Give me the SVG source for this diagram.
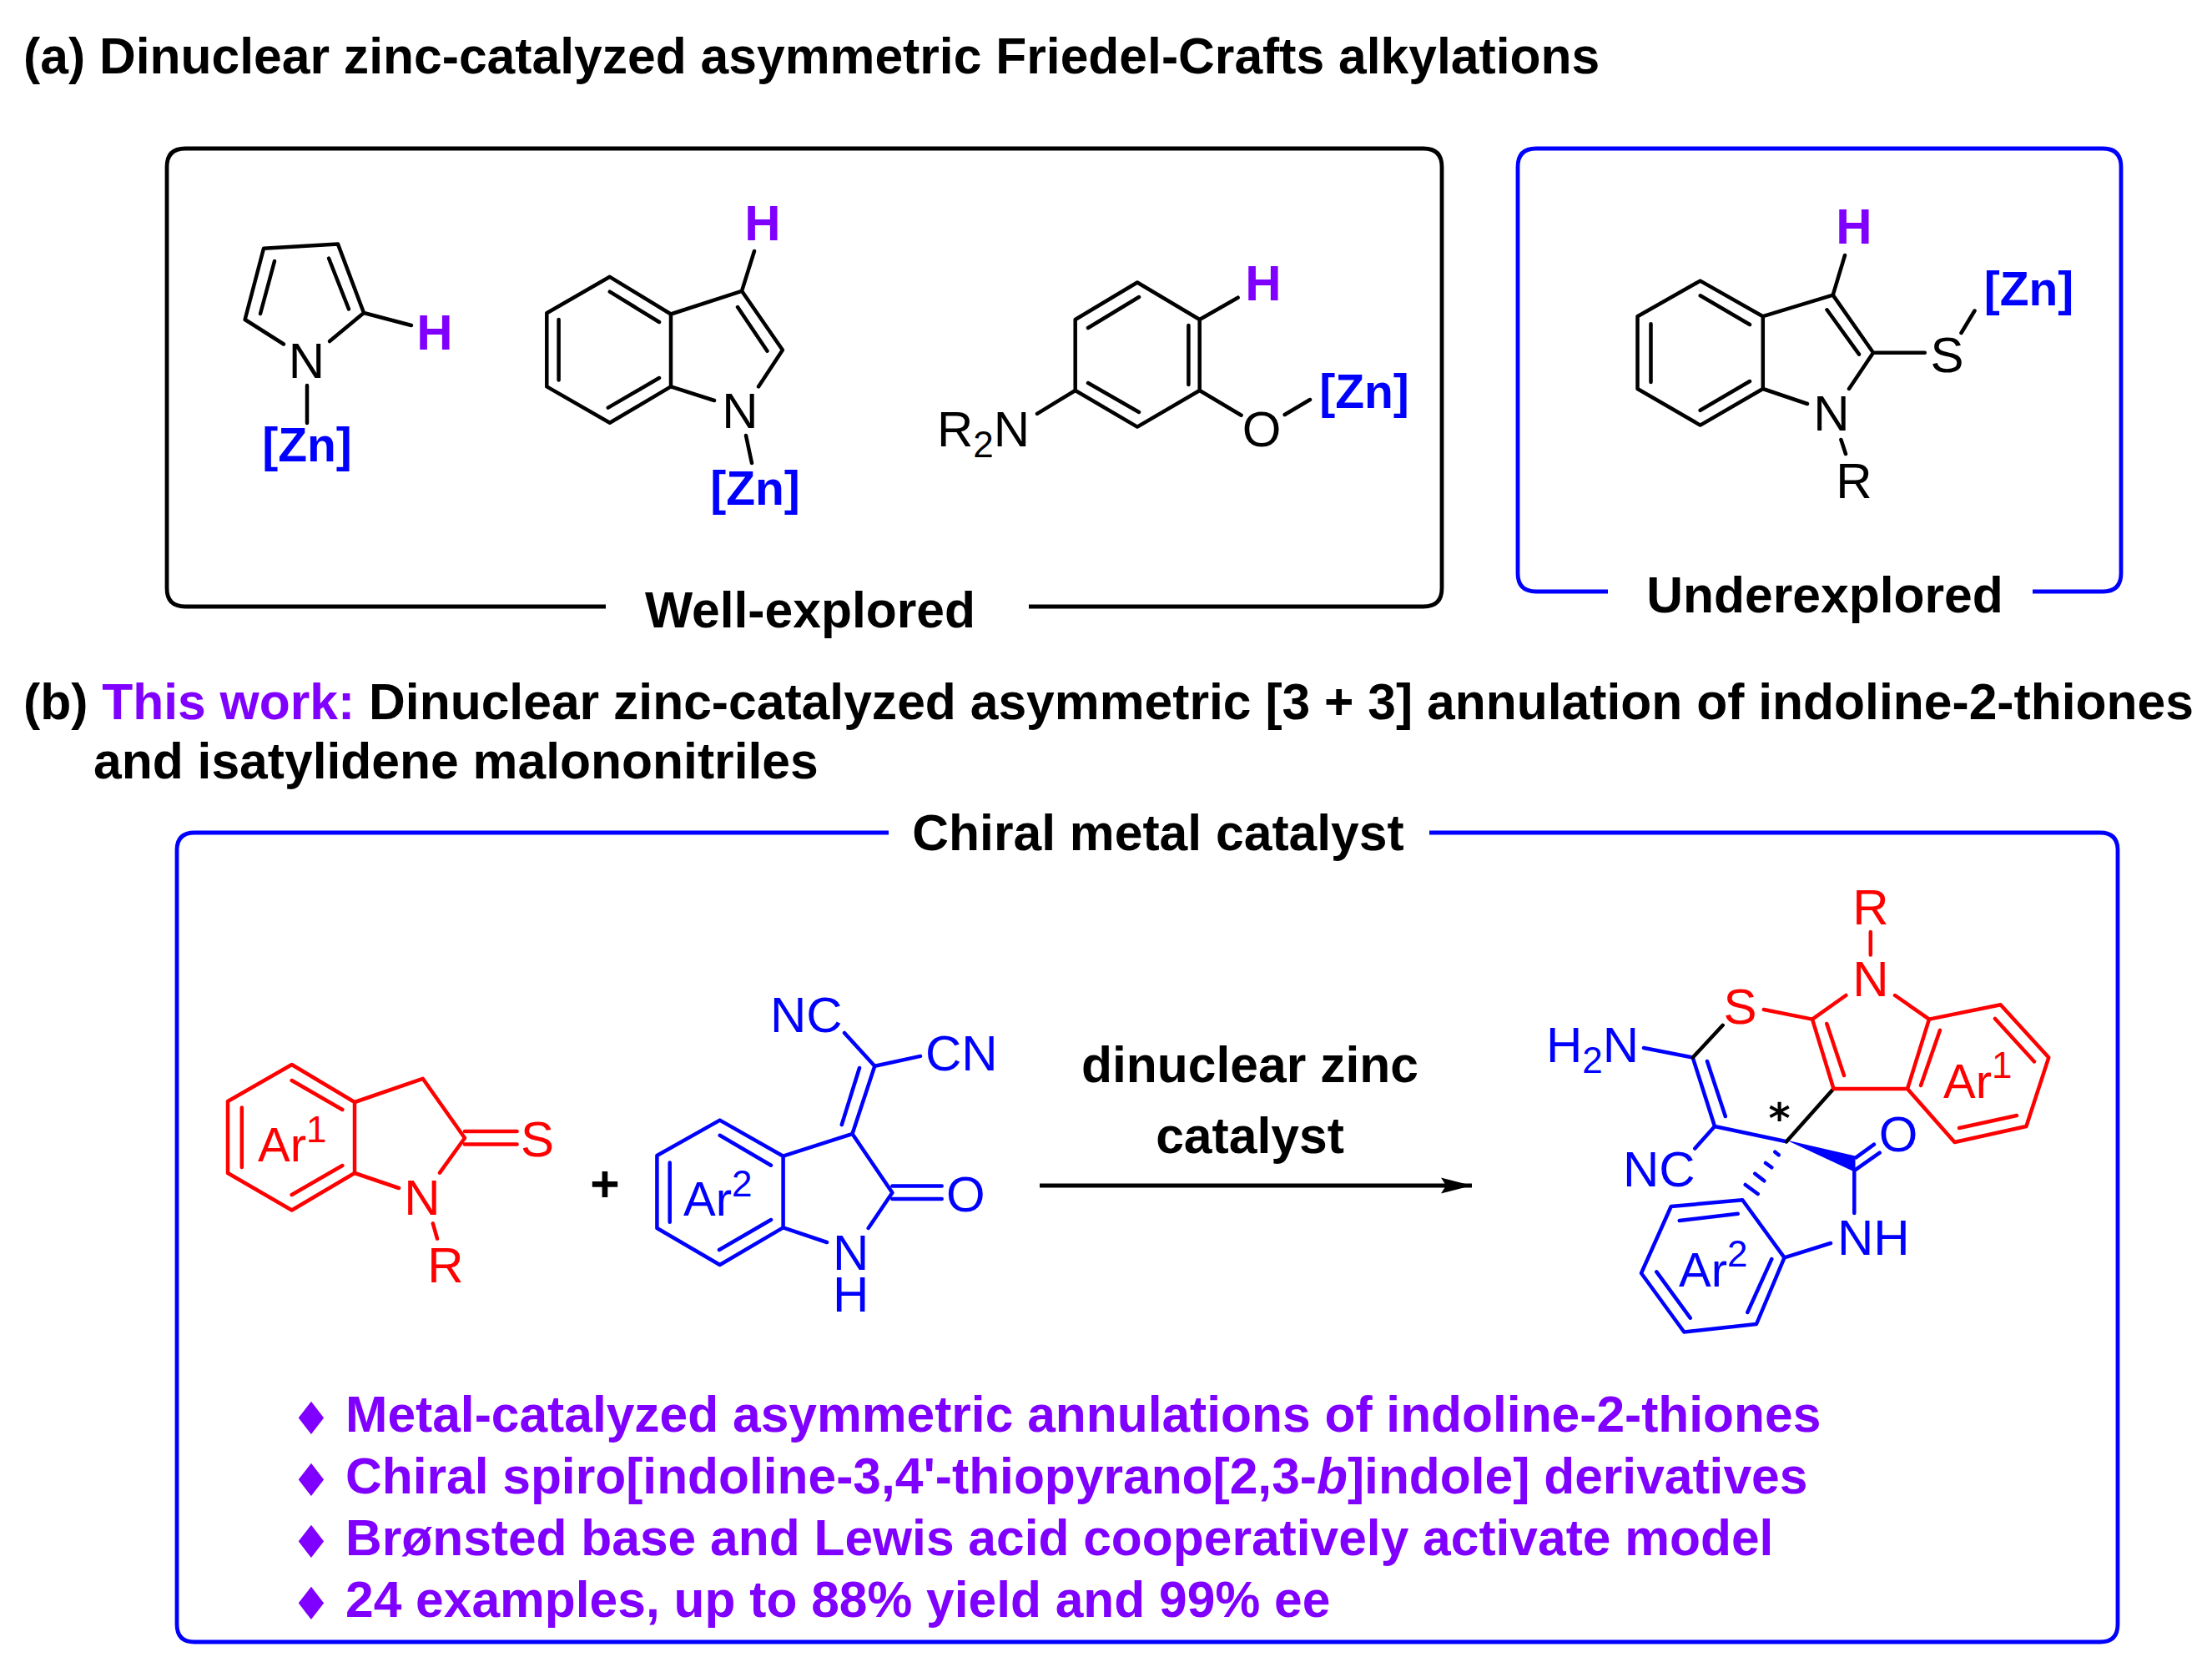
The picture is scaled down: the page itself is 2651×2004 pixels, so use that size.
<svg xmlns="http://www.w3.org/2000/svg" width="2651" height="2004" viewBox="0 0 2651 2004">
<style>
text{font-family:"Liberation Sans",Arial,sans-serif}
.t{font-size:60.6px;font-weight:700;fill:#000}
.p{fill:#8000ff}
.pt{font-size:60.5px;font-weight:700;fill:#8000ff}
.a{font-size:60px;fill:#000}
.h{font-size:60px;font-weight:700;fill:#8000ff;text-anchor:middle}
.z{font-size:57px;font-weight:700;fill:#0000ff;text-anchor:middle}
.b{font-size:60px;fill:#0000ff}
.r{font-size:60px;fill:#ff0000}
.m{text-anchor:middle}
.ar{font-size:58px}
.s{font-size:44px}
.k,.kb,.kr{fill:none;stroke-width:4.5;stroke-linecap:round;stroke-linejoin:round}
.k{stroke:#000}.kb{stroke:#0000ff}.kr{stroke:#ff0000}
.box{fill:none;stroke-width:4.8;stroke-linecap:butt}
.d{font-family:"DejaVu Sans",sans-serif;font-size:54px;fill:#8000ff;text-anchor:middle}
.st{font-family:"DejaVu Sans",sans-serif;font-size:50px;font-weight:700;fill:#000;text-anchor:middle}
</style>
<defs><marker id="ah" markerUnits="userSpaceOnUse" markerWidth="40" markerHeight="22" refX="37" refY="11" orient="auto"><path d="M0 1.5L37 11L0 20.5L6 11Z" fill="#000"/></marker></defs>
<g id="titles">
<text class="t" x="28" y="88">(a) Dinuclear zinc-catalyzed asymmetric Friedel-Crafts alkylations</text>
<text class="t" x="28" y="862">(b) <tspan class="p">This work:</tspan> Dinuclear zinc-catalyzed asymmetric [3 + 3] annulation of indoline-2-thiones</text>
<text class="t" x="112" y="933">and isatylidene malononitriles</text>
</g>
<g id="box-well-explored">
<path class="box" stroke="#000" d="M726 727H222Q200 727 200 705V200Q200 178 222 178H1706Q1728 178 1728 200V705Q1728 727 1706 727H1233"/>
<text class="t m" x="971" y="752">Well-explored</text>
</g>
<g id="box-underexplored">
<path class="box" stroke="#0000ff" d="M1927 709H1841Q1819 709 1819 687V200Q1819 178 1841 178H2520Q2542 178 2542 200V687Q2542 709 2520 709H2436"/>
<text class="t m" x="2187" y="734">Underexplored</text>
</g>
<g id="box-chiral">
<path class="box" stroke="#0000ff" d="M1065 998H233Q212 998 212 1019V1947Q212 1968 233 1968H2517Q2538 1968 2538 1947V1019Q2538 998 2517 998H1713"/>
<text class="t m" x="1388" y="1019">Chiral metal catalyst</text>
</g>
<g id="pyrrole">
<path class="k" d="M340 412.5L293.6 383L316 297.7L405 292.6L436 375L395 409M312 376L329 313M418 370.5L394 309.5M436 375L493 390M368 462V507"/>
<text class="a m" x="367.3" y="453">N</text><text class="h" x="521" y="419">H</text><text class="z" x="368" y="553">[Zn]</text>
</g>
<g id="indole">
<path class="k" d="M804 376.5L730.8 331.8L655.3 375.3V463.4L730.8 506.8L804 463.4ZM730.8 349.6L790 386M669.6 383V455.5M728.8 488.6L790 453M804 376.5L889 348.8L937.9 419.5L909 463.4M884 368L919.5 420.7M804 463.4L856 480M889 348.8L904 301M894 522L901 555"/>
<text class="a m" x="887" y="513">N</text><text class="h" x="914" y="288">H</text><text class="z" x="905" y="605">[Zn]</text>
</g>
<g id="aminophenol">
<path class="k" d="M1363 338.5L1437.7 383V468L1363 511.6L1288.7 468V383ZM1365 356L1304 393M1424.4 390V461M1365 494L1304 459M1437.7 383L1483.6 356.7M1437.7 468L1487.6 497.7M1539.7 497L1570 479M1288.7 468L1243 495.8"/>
<text class="h" x="1514" y="360">H</text><text class="a m" x="1512" y="535">O</text><text class="z" x="1635" y="489">[Zn]</text>
<text class="a" x="1123" y="534.5">R<tspan class="s" dy="13">2</tspan><tspan dy="-13">N</tspan></text>
</g>
<g id="thioindole">
<path class="k" d="M2112.8 379.2L2037.7 336.6L1962.5 379.2V466L2037.7 509.6L2112.8 466ZM2037.7 354.3L2097 389M1978.5 388.3V458M2037.7 491.8L2097 457M2112.8 379.2L2196.7 353.6L2245 422.7L2216 466M2189.5 371.3L2228 424.6M2196.7 353.6L2211 306M2245 422.7H2306.8M2350.5 399L2366.5 372.5M2112.8 466L2166 484M2206.4 527L2212 544"/>
<text class="h" x="2222" y="292">H</text><text class="a m" x="2333.5" y="446">S</text><text class="z" x="2431.5" y="366">[Zn]</text><text class="a m" x="2195" y="515.5">N</text><text class="a m" x="2222" y="597">R</text>
</g>
<g id="indolinethione">
<path class="kr" d="M425 1321L349.7 1276L273 1320V1406L349.7 1450.5L425 1406ZM349.7 1295L410.3 1330M289.8 1327.6V1399M349.7 1432L410.3 1397M425 1321L506.7 1292.8L557 1364L527 1405.6M557 1356H619.6M557 1371.4H619.6M425 1406L478 1424M518.8 1466.4L524 1484.7"/>
<text class="r m" x="644" y="1386.4">S</text><text class="r m" x="506" y="1456">N</text><text class="r m" x="534" y="1537.4">R</text>
<text class="r ar" x="309" y="1392.4">Ar<tspan class="s" dy="-23">1</tspan></text>
</g>
<text id="plus" class="t m" x="725" y="1440">+</text>
<g id="isatylidene">
<path class="kb" d="M938.6 1385.7L862.7 1342.6L787.4 1385V1472L862.7 1516L938.6 1471.4ZM862.7 1360.8L924 1396.7M802.7 1393.4V1464.7M862 1498L924 1462M938.6 1385.7L1021.5 1359L1069.4 1429.5L1040.7 1472M1069.4 1421.6H1128.7M1069.4 1437H1128.7M938.6 1471.4L991 1489M1021.5 1359L1048.3 1277.8M1008.8 1348L1030 1280M1048.3 1277.8L1012 1238M1048.3 1277.8L1103 1265.9"/>
<text class="b m" x="1157.4" y="1451.5">O</text><text class="b m" x="1019.6" y="1522">N</text><text class="b m" x="1019.6" y="1571.6">H</text>
<text class="b" x="923" y="1237">NC</text><text class="b" x="1109" y="1282.8">CN</text>
<text class="b ar" x="819" y="1457">Ar<tspan class="s" dy="-23">2</tspan></text>
</g>
<g id="connectors">
<path d="M1246 1421H1764" stroke="#000" stroke-width="4.8" fill="none" marker-end="url(#ah)"/>
</g>
<g id="catalyst-label">
<text class="t m" x="1498" y="1297">dinuclear zinc</text>
<text class="t m" x="1498" y="1381.5">catalyst</text>
</g>
<g id="product">
<path class="kb" d="M1970 1256L2028.7 1267.5L2055 1350L2141 1368.3M2046 1272L2067.8 1338M2055 1350L2031.3 1376.5M2224.3 1387.3L2246 1371.7M2224.3 1401.7L2252.7 1381.7M2222.3 1404V1454M2127.3 1380.7L2131.7 1384.3M2116 1394L2123.3 1399.3M2103.3 1406.7L2114.3 1415.3M2091.7 1420L2106.7 1431M2088.3 1438.3L2138.5 1507.4L2105 1587L2018.3 1596.5L1967 1526L2002.7 1446ZM2012.7 1463L2082.7 1454.7M1985.3 1524.3L2025.7 1579.6M2123.3 1509L2094.3 1573M2138.5 1507.4L2194 1490"/>
<polygon points="2141,1366.5 2223.5,1385.5 2223.5,1405" fill="#0000ff"/>
<path class="k" d="M2028.7 1267.5L2064.7 1228.8M2141 1368.3L2196.7 1305.7"/>
<path class="kr" d="M2241.8 1117V1144.5M2113.8 1210L2172 1221.6L2212.3 1193M2271 1193L2312 1221.6M2172 1221.6L2197.5 1305H2286L2312 1221.6L2397.6 1204.3L2455.3 1267.5L2428.4 1350L2342.5 1369L2286 1305M2189.3 1227L2210 1289M2302 1301L2325 1234.8M2391 1221L2438 1272.4M2417 1337L2348 1352"/>
<text class="r m" x="2241.8" y="1108.4">R</text><text class="r m" x="2241.8" y="1194">N</text><text class="r m" x="2085.6" y="1227">S</text>
<text class="b" x="1853" y="1273">H<tspan class="s" dy="13">2</tspan><tspan dy="-13">N</tspan></text>
<text class="b" x="1945" y="1421.6">NC</text><text class="b m" x="2275" y="1380">O</text><text class="b" x="2202" y="1504.4">NH</text>
<text class="r ar" x="2329" y="1316.4">Ar<tspan class="s" dy="-24">1</tspan></text>
<text class="b ar" x="2012" y="1542">Ar<tspan class="s" dy="-24">2</tspan></text>
<text class="st" x="2132.5" y="1358">*</text>
</g>
<g id="bullets">
<text class="d" x="373" y="1719">♦</text><text class="pt" x="414" y="1716">Metal-catalyzed asymmetric annulations of indoline-2-thiones</text>
<text class="d" x="373" y="1793">♦</text><text class="pt" x="414" y="1790">Chiral spiro[indoline-3,4'-thiopyrano[2,3-<tspan font-style="italic">b</tspan>]indole] derivatives</text>
<text class="d" x="373" y="1867">♦</text><text class="pt" x="414" y="1864">Brønsted base and Lewis acid cooperatively activate model</text>
<text class="d" x="373" y="1941">♦</text><text class="pt" x="414" y="1937.5">24 examples, up to 88% yield and 99% ee</text>
</g>
</svg>
